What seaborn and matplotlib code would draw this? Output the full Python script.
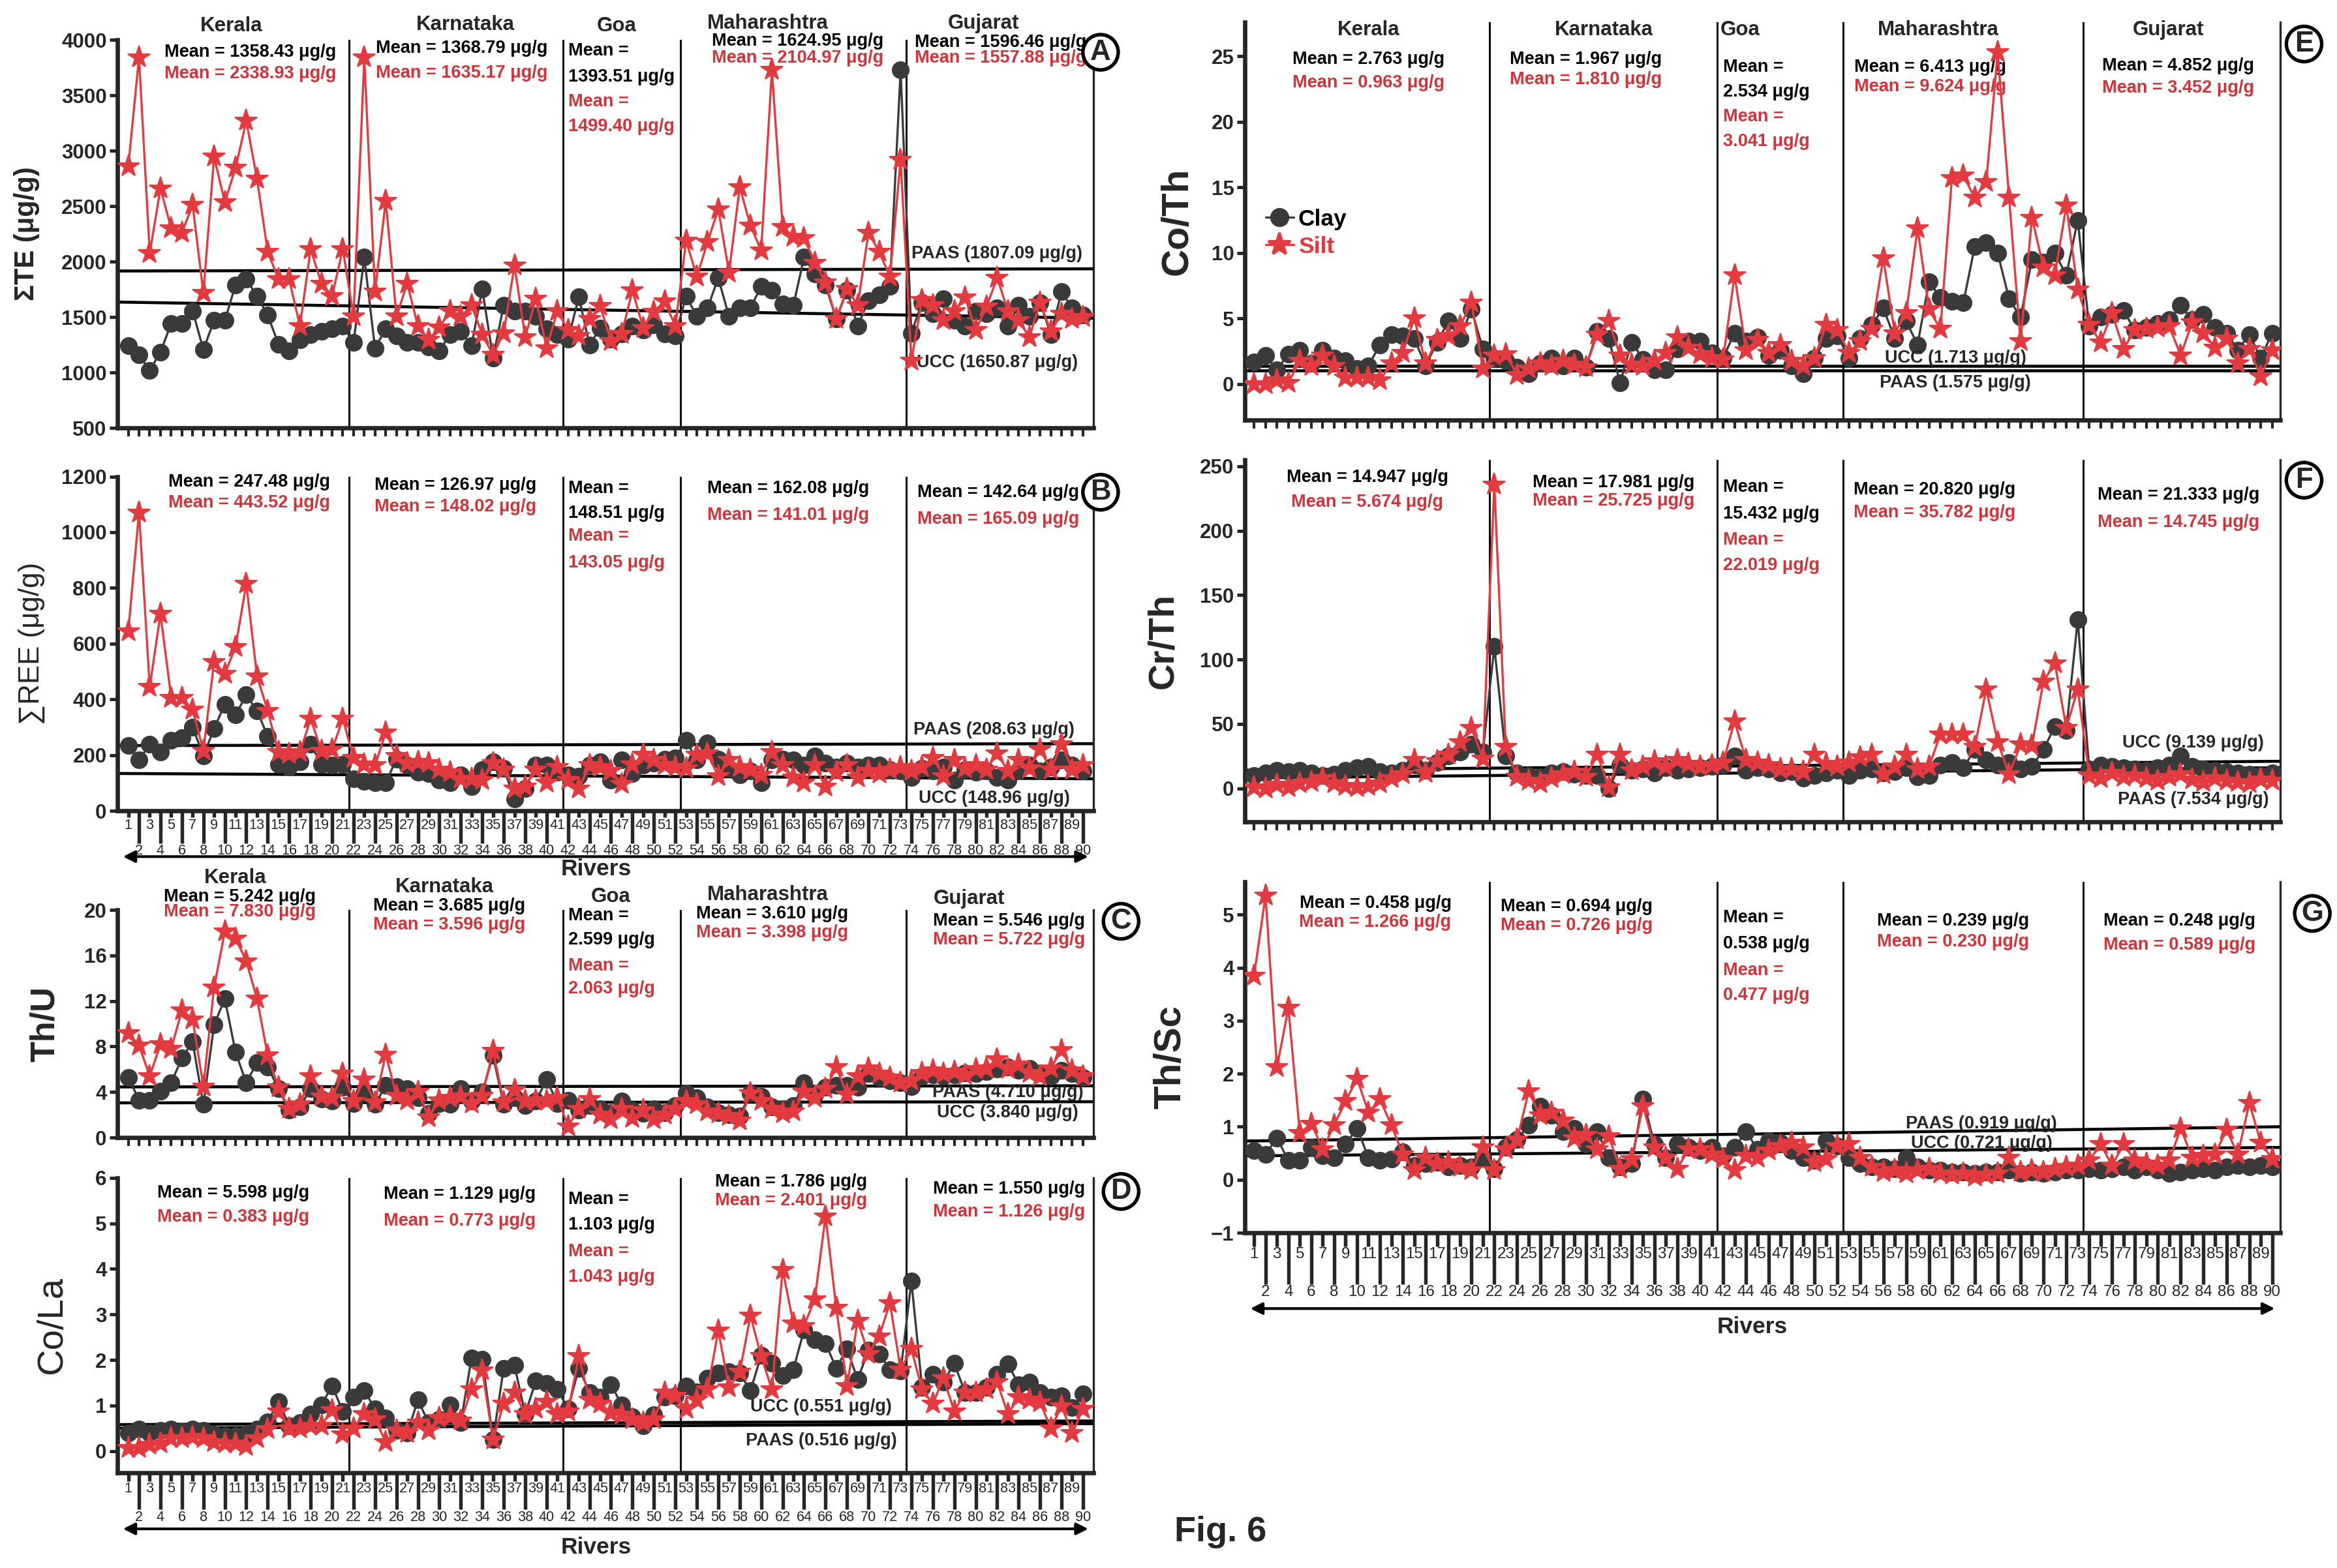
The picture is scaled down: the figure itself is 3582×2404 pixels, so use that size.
import numpy as np
import matplotlib
matplotlib.use("Agg")
import matplotlib.pyplot as plt
from matplotlib.lines import Line2D
import seaborn as sns

sns.set_style("ticks")
plt.rcParams["font.family"] = ["Liberation Sans", "DejaVu Sans"]

CLAY = "#3a3a3a"
SILT = "#e23a3f"
RED_TXT = "#d0343a"

# ---- data -------------------------------------------------------------
rivers = np.arange(1, 91)
regions = ["Kerala", "Karnataka", "Goa", "Maharashtra", "Gujarat"]
borders = [21.6, 41.5, 52.5, 73.5]

# A: sum of trace elements
te_clay = [1244, 1157, 1020, 1182, 1443, 1443, 1555, 1207, 1468, 1468, 1791, 1840, 1691, 1517, 1256, 1195, 1294, 1344, 1369, 1393, 1418,
           1269, 2039, 1220, 1393, 1331, 1269, 1269, 1232, 1195, 1344, 1369, 1244, 1753, 1132, 1604, 1555, 1555, 1505, 1393, 1344,
           1300, 1680, 1250, 1400, 1300, 1350, 1420, 1380, 1430, 1350, 1330,
           1691, 1505, 1580, 1853, 1505, 1580, 1580, 1778, 1740, 1617, 1604, 2039, 1890, 1790, 1480, 1740, 1418, 1650, 1700, 1778, 3730,
           1356, 1630, 1530, 1667, 1468, 1418, 1555, 1530, 1580, 1418, 1604, 1505, 1630, 1344, 1728, 1580, 1520]
te_silt = [2858, 3843, 2076, 2659, 2300, 2262, 2510, 1716, 2945, 2535, 2845, 3268, 2746, 2088, 1840, 1840, 1418, 2113, 1803, 1691, 2113,
           1505, 3839, 1728, 2548, 1505, 1803, 1418, 1294, 1406, 1555, 1505, 1604, 1344, 1157, 1356, 1964, 1319, 1666, 1220, 1555,
           1380, 1330, 1480, 1600, 1280, 1350, 1740, 1400, 1550, 1640, 1420,
           2188, 1865, 2175, 2473, 1903, 2672, 2324, 2100, 3727, 2312, 2225, 2212, 1989, 1815, 1480, 1753, 1604, 2262, 2088, 1865, 2920,
           1108, 1655, 1604, 1468, 1555, 1679, 1381, 1592, 1853, 1555, 1468, 1319, 1630, 1369, 1530, 1480, 1500]
te_paas = [1915, 1935]
te_ucc = [1635, 1490]
te_mean_clay = [1358.43, 1368.79, 1393.51, 1624.95, 1596.46]
te_mean_silt = [2338.93, 1635.17, 1499.40, 2104.97, 1557.88]

# B: sum of REE
ree_clay = [234, 182, 239, 210, 253, 263, 301, 196, 296, 382, 344, 416, 359, 268, 167, 158, 177, 239, 167, 163, 167,
            115, 105, 100, 100, 186, 163, 139, 134, 110, 100, 129, 86, 148, 177, 153, 43, 81, 163, 163, 139,
            129, 124, 163, 177, 110, 182, 134, 163, 172, 186, 191,
            253, 182, 244, 186, 153, 129, 143, 100, 182, 186, 182, 163, 196, 172, 158, 172, 158, 163, 163, 148, 143,
            120, 153, 143, 158, 110, 148, 139, 143, 120, 110, 143, 163, 143, 158, 182, 163, 143]
ree_silt = [645, 1071, 445, 707, 406, 406, 363, 215, 535, 492, 588, 815, 483, 359, 210, 205, 210, 330, 215, 220, 330,
            191, 167, 163, 282, 196, 172, 177, 172, 148, 139, 115, 115, 110, 172, 148, 81, 86, 148, 100, 158,
            110, 81, 163, 158, 143, 96, 167, 201, 182, 163, 158,
            153, 201, 206, 124, 182, 158, 148, 129, 210, 163, 120, 100, 163, 86, 139, 163, 120, 143, 134, 148, 158,
            143, 158, 191, 124, 182, 153, 163, 148, 206, 143, 182, 153, 220, 148, 239, 148, 163]
ree_paas = [234, 241]
ree_ucc = [134, 115]
ree_mean_clay = [247.48, 126.97, 148.51, 162.08, 142.64]
ree_mean_silt = [443.52, 148.02, 143.05, 141.01, 165.09]

# C: Th/U
thu_clay = [5.3, 3.3, 3.3, 4.1, 4.8, 7.0, 8.4, 2.9, 9.9, 12.2, 7.5, 4.8, 6.6, 6.2, 4.3, 2.4, 2.7, 4.3, 3.4, 3.2, 4.4,
            3.0, 3.9, 2.9, 4.6, 4.5, 4.3, 3.5, 2.1, 3.0, 2.9, 4.3, 3.2, 4.0, 7.2, 2.9, 3.5, 2.8, 3.2, 5.1, 3.0,
            3.3, 2.4, 2.8, 2.5, 2.2, 3.2, 2.4, 2.1, 2.5, 2.2, 2.8,
            3.9, 3.5, 2.7, 2.2, 2.0, 1.9, 3.9, 3.6, 2.7, 2.5, 2.8, 4.8, 3.8, 4.4, 4.6, 4.6, 4.4, 5.6, 5.3, 5.0, 4.8,
            4.5, 5.4, 5.5, 5.4, 5.5, 5.7, 5.6, 5.8, 6.0, 6.2, 5.9, 6.1, 5.7, 5.4, 5.9, 5.6, 5.3]
thu_silt = [9.2, 8.1, 5.4, 8.2, 7.8, 11.2, 10.4, 4.5, 13.2, 18.1, 17.5, 15.5, 12.2, 7.2, 4.4, 2.5, 2.9, 5.4, 3.6, 3.5, 5.6,
            3.2, 5.1, 3.1, 7.3, 3.7, 3.3, 4.0, 1.8, 3.3, 3.5, 3.6, 3.0, 3.7, 7.6, 3.1, 4.2, 3.2, 3.3, 3.2, 3.5,
            1.0, 2.5, 3.4, 2.0, 1.6, 2.5, 1.7, 2.4, 1.6, 2.0, 2.5,
            3.2, 2.9, 2.3, 2.1, 1.9, 1.5, 3.9, 3.2, 2.5, 2.1, 2.3, 4.0, 3.5, 4.3, 6.2, 3.8, 5.4, 6.1, 5.6, 5.3, 4.8,
            5.0, 5.7, 5.9, 5.6, 5.8, 5.5, 6.0, 6.1, 6.9, 6.0, 6.4, 5.7, 5.4, 6.1, 7.7, 5.9, 5.4]
thu_paas = [4.45, 4.55]
thu_ucc = [3.05, 3.15]
thu_mean_clay = [5.242, 3.685, 2.599, 3.610, 5.546]
thu_mean_silt = [7.830, 3.596, 2.063, 3.398, 5.722]

# D: Co/La
cola_clay = [0.39, 0.48, 0.39, 0.45, 0.48, 0.42, 0.48, 0.45, 0.36, 0.34, 0.34, 0.36, 0.48, 0.64, 1.09, 0.56, 0.62, 0.81, 1.01, 1.43, 0.87,
             1.18, 1.32, 0.93, 0.73, 0.45, 0.39, 1.12, 0.62, 0.70, 1.01, 0.62, 2.05, 2.02, 0.25, 1.82, 1.88, 0.81, 1.54, 1.49, 1.35,
             0.93, 1.82, 1.29, 1.18, 1.46, 1.01, 0.76, 0.56, 0.79, 1.18, 1.21,
             1.43, 1.30, 1.60, 1.71, 1.74, 1.71, 1.32, 2.10, 1.93, 1.65, 1.79, 2.66, 2.44, 2.36, 1.82, 2.24, 1.57, 2.22, 2.13, 1.79, 1.75,
             3.73, 1.40, 1.68, 1.51, 1.93, 1.29, 1.29, 1.40, 1.68, 1.91, 1.46, 1.51, 1.29, 1.18, 1.21, 0.95, 1.26]
cola_silt = [0.06, 0.06, 0.14, 0.17, 0.28, 0.28, 0.31, 0.28, 0.20, 0.17, 0.17, 0.11, 0.28, 0.48, 0.87, 0.50, 0.50, 0.56, 0.56, 0.90, 0.36,
             0.50, 0.81, 0.70, 0.20, 0.45, 0.39, 0.62, 0.45, 0.73, 0.76, 0.67, 1.35, 1.77, 0.25, 1.04, 1.29, 0.81, 0.93, 1.09, 0.81,
             0.87, 2.08, 1.12, 1.04, 0.84, 0.79, 0.70, 0.62, 0.70, 1.29, 1.21,
             0.93, 1.12, 1.35, 2.64, 1.40, 1.74, 2.97, 2.08, 1.35, 3.98, 2.80, 2.75, 3.34, 5.16, 3.14, 1.43, 2.86, 2.13, 2.52, 3.25, 1.79,
             2.24, 1.35, 1.04, 1.60, 0.87, 1.29, 1.29, 1.35, 1.51, 0.81, 1.18, 1.12, 1.07, 0.50, 0.98, 0.39, 0.93]
cola_ucc = [0.58, 0.66]
cola_paas = [0.50, 0.60]
cola_mean_clay = [5.598, 1.129, 1.103, 1.786, 1.550]
cola_mean_silt = [0.383, 0.773, 1.043, 2.401, 1.126]

# E: Co/Th
coth_clay = [1.7, 2.2, 1.1, 2.3, 2.6, 1.6, 2.6, 2.0, 1.8, 1.2, 1.4, 3.0, 3.8, 3.7, 3.5, 1.4, 3.2, 4.8, 3.5, 5.7, 2.7,
             2.0, 1.8, 1.3, 0.8, 1.6, 2.0, 1.4, 2.0, 1.3, 4.0, 3.5, 0.1, 3.2, 1.9, 1.1, 1.1, 2.7, 3.3, 3.3, 2.4,
             2.0, 3.9, 3.3, 3.6, 2.2, 2.6, 1.4, 0.8, 2.0, 3.5, 3.7,
             2.0, 3.5, 4.5, 5.8, 3.5, 4.8, 3.0, 7.8, 6.6, 6.3, 6.2, 10.5, 10.8, 10.0, 6.5, 5.1, 9.5, 9.3, 10.0, 8.3, 12.5,
             4.4, 5.1, 5.3, 5.6, 4.1, 4.3, 4.6, 4.9, 6.0, 4.9, 5.3, 4.3, 3.9, 2.6, 3.8, 2.0, 3.9]
coth_silt = [0.0, 0.0, 0.3, 0.1, 1.8, 1.4, 2.2, 1.4, 0.5, 0.5, 0.5, 0.3, 1.6, 2.4, 5.0, 1.6, 3.4, 3.7, 4.4, 6.2, 1.2,
             2.2, 2.3, 0.7, 1.2, 1.6, 1.4, 1.8, 1.5, 1.3, 3.8, 4.8, 2.2, 1.5, 1.4, 1.8, 2.4, 3.6, 2.8, 2.3, 2.0,
             1.9, 8.3, 2.6, 3.4, 2.4, 3.0, 1.8, 1.4, 2.0, 4.5, 4.1,
             2.4, 3.3, 4.2, 9.6, 3.9, 5.4, 11.9, 5.7, 4.2, 15.7, 15.9, 14.2, 15.4, 25.3, 14.2, 3.3, 12.7, 8.9, 8.3, 13.6, 7.2,
             4.5, 3.2, 5.4, 2.7, 4.1, 4.2, 4.3, 4.4, 2.2, 4.7, 3.9, 2.8, 3.5, 1.6, 2.7, 0.6, 2.6]
coth_ucc = [1.37, 1.37]
coth_paas = [1.05, 1.05]
coth_mean_clay = [2.763, 1.967, 2.534, 6.413, 4.852]
coth_mean_silt = [0.963, 1.810, 3.041, 9.624, 3.452]

# F: Cr/Th
crth_clay = [10, 12, 14, 13, 14, 12, 10, 11, 14, 16, 17, 13, 12, 14, 18, 14, 20, 25, 28, 34, 28,
             110, 25, 12, 10, 9, 12, 13, 11, 10, 10, 0, 18, 14, 15, 12, 16, 14, 15, 16, 17,
             18, 25, 14, 16, 15, 12, 13, 8, 10, 12, 14,
             10, 14, 15, 12, 13, 16, 9, 10, 18, 20, 16, 30, 22, 18, 20, 15, 17, 30, 48, 45, 131,
             15, 18, 17, 16, 15, 14, 16, 18, 25, 17, 15, 14, 13, 12, 11, 10, 12]
crth_silt = [1, 0, 3, 1, 4, 5, 8, 4, 2, 1, 2, 4, 8, 11, 22, 12, 21, 26, 36, 47, 23,
             236, 32, 9, 6, 4, 8, 11, 13, 9, 26, 1, 26, 14, 17, 21, 17, 22, 19, 17, 18,
             20, 52, 22, 20, 18, 15, 15, 13, 26, 19, 17,
             20, 24, 26, 11, 17, 26, 15, 17, 42, 42, 42, 32, 77, 36, 11, 34, 33, 83, 97, 47, 77,
             10, 8, 12, 9, 10, 8, 6, 9, 11, 7, 5, 8, 6, 5, 4, 7, 6]
crth_ucc = [14, 21]
crth_paas = [8, 16]
crth_mean_clay = [14.947, 17.981, 15.432, 20.820, 21.333]
crth_mean_silt = [5.674, 25.725, 22.019, 35.782, 14.745]

# G: Th/Sc
thsc_clay = [0.55, 0.48, 0.79, 0.36, 0.36, 0.61, 0.45, 0.42, 0.67, 0.97, 0.42, 0.36, 0.39, 0.52, 0.27, 0.30, 0.33, 0.24, 0.27, 0.24, 0.42,
             0.21, 0.61, 0.76, 1.03, 1.39, 1.21, 0.91, 0.97, 0.67, 0.91, 0.42, 0.24, 0.30, 1.52, 0.67, 0.42, 0.67, 0.61, 0.55, 0.61,
             0.45, 0.61, 0.91, 0.58, 0.73, 0.70, 0.55, 0.42, 0.36, 0.73, 0.64,
             0.42, 0.30, 0.24, 0.24, 0.21, 0.42, 0.24, 0.18, 0.18, 0.15, 0.15, 0.12, 0.15, 0.15, 0.18, 0.12, 0.15, 0.12, 0.15, 0.18, 0.18,
             0.21, 0.18, 0.21, 0.24, 0.18, 0.24, 0.18, 0.12, 0.15, 0.18, 0.21, 0.18, 0.24, 0.27, 0.24, 0.27, 0.24]
thsc_silt = [3.85, 5.36, 2.12, 3.24, 0.88, 1.06, 0.58, 1.03, 1.48, 1.91, 1.27, 1.52, 1.03, 0.48, 0.18, 0.42, 0.30, 0.33, 0.24, 0.18, 0.61,
             0.18, 0.58, 0.76, 1.67, 1.21, 1.27, 1.12, 0.79, 0.85, 0.58, 0.82, 0.21, 0.39, 1.39, 0.61, 0.42, 0.21, 0.58, 0.58, 0.48,
             0.39, 0.18, 0.45, 0.42, 0.55, 0.64, 0.70, 0.61, 0.33, 0.39, 0.64,
             0.67, 0.42, 0.24, 0.15, 0.18, 0.12, 0.18, 0.21, 0.12, 0.09, 0.12, 0.06, 0.09, 0.12, 0.42, 0.15, 0.18, 0.15, 0.21, 0.24, 0.27,
             0.36, 0.67, 0.27, 0.67, 0.36, 0.30, 0.27, 0.36, 0.97, 0.42, 0.45, 0.48, 0.94, 0.48, 1.45, 0.70, 0.39]
thsc_paas = [0.73, 1.00]
thsc_ucc = [0.45, 0.61]
thsc_mean_clay = [0.458, 0.694, 0.538, 0.239, 0.248]
thsc_mean_silt = [1.266, 0.726, 0.477, 0.230, 0.589]

# ---- figure ------------------------------------------------------------
fig = plt.figure(figsize=(3582 / 300, 2404 / 300), dpi=300)

XL_LEFT = (0.0, 91.0)
XL_RIGHT = (0.2, 90.7)
TXT = dict(fontsize=6.5, fontweight="bold")
MS_CLAY = 6.0
MS_SILT = 8.5


def base_panel(rect, xlim, clay, silt, paas, ucc, ylim, yticks, ylabel, ylab_kw, ylab_x):
    ax = fig.add_axes(rect)
    for b in borders:
        ax.axvline(b, color="black", lw=0.7, zorder=1)
    ax.plot(xlim, paas, color="black", lw=1.1, zorder=2)
    ax.plot(xlim, ucc, color="black", lw=1.1, zorder=2)
    sns.lineplot(x=rivers, y=clay, ax=ax, color=CLAY, linewidth=0.8, marker="o",
                 markersize=MS_CLAY, markeredgecolor=CLAY, markeredgewidth=0.5,
                 errorbar=None, zorder=3)
    sns.lineplot(x=rivers, y=silt, ax=ax, color=SILT, linewidth=0.8, marker="*",
                 markersize=MS_SILT, markeredgecolor=SILT, markeredgewidth=0.5,
                 errorbar=None, zorder=4)
    ax.set_xlim(*xlim)
    ax.set_ylim(*ylim)
    ax.set_yticks(yticks)
    ax.tick_params(axis="y", length=3, width=1.2, pad=1, labelsize=7.5)
    for t in ax.get_yticklabels():
        t.set_fontweight("bold")
    ax.spines["top"].set_visible(False)
    ax.spines["right"].set_linewidth(0.8)
    ax.spines["left"].set_linewidth(1.6)
    ax.spines["bottom"].set_linewidth(1.6)
    ax.set_xlabel("")
    ax.set_ylabel(ylabel, va="center", **ylab_kw)
    ax.yaxis.set_label_coords(ylab_x, 0.5)
    return ax


def plain_x(ax):
    ax.set_xticks(rivers)
    ax.set_xticklabels([])
    ax.tick_params(axis="x", which="major", length=3, width=1.0)


def labelled_x(ax, long_len, short_len, size, arrow_y, rivers_y):
    evens = rivers[rivers % 2 == 0]
    odds = rivers[rivers % 2 == 1]
    ax.set_xticks(evens)
    ax.set_xticklabels([str(v) for v in evens], fontsize=size)
    ax.set_xticks(odds, minor=True)
    ax.set_xticklabels([str(v) for v in odds], minor=True, fontsize=size)
    ax.tick_params(axis="x", which="major", length=long_len, width=1.3, pad=0.3)
    ax.tick_params(axis="x", which="minor", length=short_len, width=1.3, pad=0.3)
    ax.annotate("", xy=(1.0, arrow_y), xytext=(0.0, arrow_y), xycoords="axes fraction",
                arrowprops=dict(arrowstyle="<|-|>", color="black", lw=1.0,
                                mutation_scale=9))
    ax.text(0.49, rivers_y, "Rivers", transform=ax.transAxes, ha="center",
            va="center", fontsize=8.5, fontweight="bold")


def add_means(ax, clay_m, silt_m, nd, xs, ys, goa_ys):
    tr = ax.get_xaxis_transform()
    for i in range(5):
        c = f"{clay_m[i]:.{nd}f} μg/g"
        s = f"{silt_m[i]:.{nd}f} μg/g"
        if i == 2:
            ax.text(42.0, goa_ys[0], "Mean =", transform=tr, ha="left", va="center", color="black", **TXT)
            ax.text(42.0, goa_ys[1], c, transform=tr, ha="left", va="center", color="black", **TXT)
            ax.text(42.0, goa_ys[2], "Mean =", transform=tr, ha="left", va="center", color=RED_TXT, **TXT)
            ax.text(42.0, goa_ys[3], s, transform=tr, ha="left", va="center", color=RED_TXT, **TXT)
        else:
            ax.text(xs[i], ys[i][0], "Mean = " + c, transform=tr, ha="center", va="center",
                    color="black", **TXT)
            ax.text(xs[i], ys[i][1], "Mean = " + s, transform=tr, ha="center", va="center",
                    color=RED_TXT, **TXT)


def add_titles(ax, xs, ys):
    tr = ax.get_xaxis_transform()
    for name, x, y in zip(regions, xs, ys):
        ax.text(x, y, name, transform=tr, ha="center", va="center", fontsize=7.5,
                fontweight="bold")


def ref_labels(ax, x, items):
    for txt, y in items:
        ax.text(x, y, txt, ha="center", va="center", **TXT)


def letter(ax, x, y, s):
    ax.text(x, y, s, transform=ax.transAxes, ha="center", va="center", fontsize=10.5,
            fontweight="bold", bbox=dict(boxstyle="circle,pad=0.15", fc="white",
                                         ec="black", lw=1.3))


# A
axA = base_panel([0.0503, 0.7271, 0.4177, 0.2475], XL_LEFT, te_clay, te_silt, te_paas, te_ucc,
                 (500, 4000), np.arange(500, 4001, 500), "ΣTE (μg/g)",
                 dict(fontsize=10, fontweight="bold"), -0.093)
plain_x(axA)
add_titles(axA, [10.6, 32.4, 46.5, 60.6, 80.7], [1.035, 1.039, 1.035, 1.042, 1.042])
add_means(axA, te_mean_clay, te_mean_silt, 2, [12.4, 32.1, 0, 63.4, 82.3],
          [(0.968, 0.912), (0.978, 0.914), None, (0.996, 0.953), (0.993, 0.953)],
          [0.971, 0.904, 0.84, 0.776])
ref_labels(axA, 82.0, [("PAAS (1807.09 μg/g)", 2072), ("UCC (1650.87 μg/g)", 1088)])
letter(axA, 1.007, 0.968, "A")

# B
axB = base_panel([0.0503, 0.4829, 0.4177, 0.2132], XL_LEFT, ree_clay, ree_silt, ree_paas, ree_ucc,
                 (0, 1200), np.arange(0, 1201, 200), "∑REE (μg/g)",
                 dict(fontsize=10.5), -0.088)
labelled_x(axB, 12, 2.5, 5.2, -0.137, -0.175)
add_means(axB, ree_mean_clay, ree_mean_silt, 2, [12.3, 31.5, 0, 62.5, 82.1],
          [(0.984, 0.921), (0.973, 0.909), None, (0.965, 0.885), (0.953, 0.873)],
          [0.965, 0.889, 0.822, 0.742])
ref_labels(axB, 81.7, [("PAAS (208.63 μg/g)", 290), ("UCC (148.96 μg/g)", 44)])
letter(axB, 1.007, 0.953, "B")

# C
axC = base_panel([0.0503, 0.2745, 0.4177, 0.1452], XL_LEFT, thu_clay, thu_silt, thu_paas, thu_ucc,
                 (0, 20), [0, 4, 8, 12, 16, 20], "Th/U",
                 dict(fontsize=12.5, fontweight="bold"), -0.074)
plain_x(axC)
add_titles(axC, [11.0, 30.5, 46.0, 60.6, 79.4], [1.14, 1.10, 1.057, 1.066, 1.048])
add_means(axC, thu_mean_clay, thu_mean_silt, 3, [11.4, 30.9, 0, 61.0, 83.1],
          [(1.057, 0.991), (1.017, 0.934), None, (0.983, 0.90), (0.951, 0.868)],
          [0.974, 0.868, 0.754, 0.653])
ref_labels(axC, 83.0, [("PAAS (4.710 μg/g)", 3.95), ("UCC (3.840 μg/g)", 2.2)])
letter(axC, 1.028, 0.95, "C")

# D
axD = base_panel([0.0503, 0.0607, 0.4177, 0.1881], XL_LEFT, cola_clay, cola_silt, cola_paas, cola_ucc,
                 (-0.48, 6), np.arange(0, 7, 1), "Co/La",
                 dict(fontsize=13.5), -0.067)
labelled_x(axD, 13.5, 3, 5.2, -0.19, -0.254)
add_means(axD, cola_mean_clay, cola_mean_silt, 3, [10.8, 31.9, 0, 62.8, 83.1],
          [(0.949, 0.867), (0.945, 0.854), None, (0.987, 0.922), (0.962, 0.885)],
          [0.927, 0.84, 0.75, 0.664])
ref_labels(axD, 65.6, [("UCC (0.551 μg/g)", 0.97), ("PAAS (0.516 μg/g)", 0.22)])
letter(axD, 1.028, 0.954, "D")

# E
axE = base_panel([0.5327, 0.7321, 0.4430, 0.2538], XL_RIGHT, coth_clay, coth_silt, coth_paas, coth_ucc,
                 (-2.74, 27.6), [0, 5, 10, 15, 20, 25], "Co/Th",
                 dict(fontsize=14, fontweight="bold"), -0.065)
plain_x(axE)
add_titles(axE, [11.0, 31.6, 43.5, 60.8, 80.9], [0.98] * 5)
add_means(axE, coth_mean_clay, coth_mean_silt, 3, [11.0, 30.0, 0, 60.1, 81.8],
          [(0.907, 0.848), (0.907, 0.855), None, (0.887, 0.838), (0.89, 0.834)],
          [0.887, 0.824, 0.762, 0.70])
ref_labels(axE, 62.3, [("UCC (1.713 μg/g)", 2.0), ("PAAS (1.575 μg/g)", 0.1)])
letter(axE, 1.023, 0.945, "E")
handles = [Line2D([0], [0], color=CLAY, lw=0.8, marker="o", markersize=MS_CLAY),
           Line2D([0], [0], color=SILT, lw=0.8, marker="*", markersize=MS_SILT)]
axE.legend(handles, ["Clay", "Silt"], loc="center left", bbox_to_anchor=(0.0, 0.47),
           frameon=False, handlelength=1.2, handletextpad=0.2, labelspacing=0.25,
           labelcolor=["black", SILT], prop=dict(size=8.5, weight="bold"))

# F
axF = base_panel([0.5327, 0.4759, 0.4430, 0.2308], XL_RIGHT, crth_clay, crth_silt, crth_paas, crth_ucc,
                 (-26, 255), np.arange(0, 251, 50), "Cr/Th",
                 dict(fontsize=13.5, fontweight="bold"), -0.079)
plain_x(axF)
add_means(axF, crth_mean_clay, crth_mean_silt, 3, [10.9, 32.4, 0, 60.5, 81.8],
          [(0.951, 0.883), (0.937, 0.886), None, (0.917, 0.854), (0.903, 0.827)],
          [0.924, 0.85, 0.778, 0.708])
ref_labels(axF, 83.1, [("UCC (9.139 μg/g)", 35), ("PAAS (7.534 μg/g)", -9)])
letter(axF, 1.023, 0.944, "F")

# G
axG = base_panel([0.5327, 0.2138, 0.4430, 0.2238], XL_RIGHT, thsc_clay, thsc_silt, thsc_paas, thsc_ucc,
                 (-1, 5.62), np.arange(-1, 6, 1), "Th/Sc",
                 dict(fontsize=14, fontweight="bold"), -0.072)
labelled_x(axG, 19, 5, 5.8, -0.216, -0.268)
add_means(axG, thsc_mean_clay, thsc_mean_silt, 3, [11.6, 29.2, 0, 62.1, 81.9],
          [(0.939, 0.885), (0.929, 0.875), None, (0.888, 0.829), (0.888, 0.82)],
          [0.898, 0.823, 0.747, 0.677])
ref_labels(axG, 64.6, [("PAAS (0.919 μg/g)", 1.06), ("UCC (0.721 μg/g)", 0.69)])
letter(axG, 1.031, 0.91, "G")

fig.text(0.5025, 0.023, "Fig. 6", fontsize=13, fontweight="bold", ha="left", va="center")

fig.savefig("out.png", dpi=300)
